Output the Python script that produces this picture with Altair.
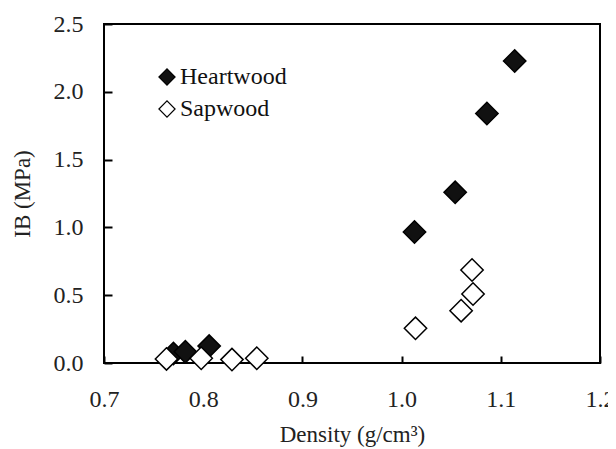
import altair as alt
import pandas as pd

density_heart = [0.770, 0.782, 0.806, 1.013, 1.054, 1.086, 1.114]
ib_heart = [0.07, 0.083, 0.125, 0.966, 1.259, 1.84, 2.227]
density_sap = [0.763, 0.798, 0.829, 0.854, 1.014, 1.060, 1.072, 1.071]
ib_sap = [0.03, 0.035, 0.025, 0.035, 0.256, 0.386, 0.509, 0.686]
groups = ["Heartwood", "Sapwood"]
x_ticks = [0.7, 0.8, 0.9, 1.0, 1.1, 1.2]
y_ticks = [0.0, 0.5, 1.0, 1.5, 2.0, 2.5]

rows = [{"density": d, "ib": v, "group": groups[0]} for d, v in zip(density_heart, ib_heart)]
rows += [{"density": d, "ib": v, "group": groups[1]} for d, v in zip(density_sap, ib_sap)]
df = pd.DataFrame(rows)

FONT = "Liberation Serif"

chart = alt.Chart(df).mark_point(
    shape="diamond", filled=True, size=500, stroke="black", strokeWidth=1.5, opacity=1
).encode(
    x=alt.X("density:Q", title="Density (g/cm³)",
            scale=alt.Scale(domain=[0.7, 1.2], nice=False, zero=False),
            axis=alt.Axis(values=x_ticks, format=".1f", offset=-7, tickSize=7,
                          labelPadding=24, titlePadding=12)),
    y=alt.Y("ib:Q", title="IB (MPa)",
            scale=alt.Scale(domain=[0, 2.5], nice=False),
            axis=alt.Axis(values=y_ticks, format=".1f", offset=-8, tickSize=8,
                          labelPadding=21, titlePadding=19)),
    fill=alt.Fill("group:N", scale=alt.Scale(domain=groups, range=["#111111", "white"]),
                  legend=alt.Legend(title=None, orient="none", legendX=51, legendY=41,
                                    padding=0, rowPadding=8, symbolType="diamond",
                                    symbolSize=260, symbolStrokeColor="black",
                                    symbolStrokeWidth=1.2, labelFont=FONT,
                                    labelFontSize=24, labelColor="#111", labelOffset=1)),
).properties(
    width=496, height=339,
    autosize=alt.AutoSizeParams(type="none"),
    padding={"left": 96, "top": 16, "right": 8, "bottom": 100},
).configure_view(
    stroke="black", strokeWidth=2
).configure_axis(
    domain=False, grid=False, ticks=True, tickColor="black", tickWidth=2,
    labelFont=FONT, labelFontSize=24, labelColor="#222",
    labelFlush=False, labelOverlap=False, labelBound=False,
    titleFont=FONT, titleFontSize=23, titleFontWeight="normal", titleColor="#222",
)

chart.save("out.html", embed_options={"renderer": "svg", "actions": False})
